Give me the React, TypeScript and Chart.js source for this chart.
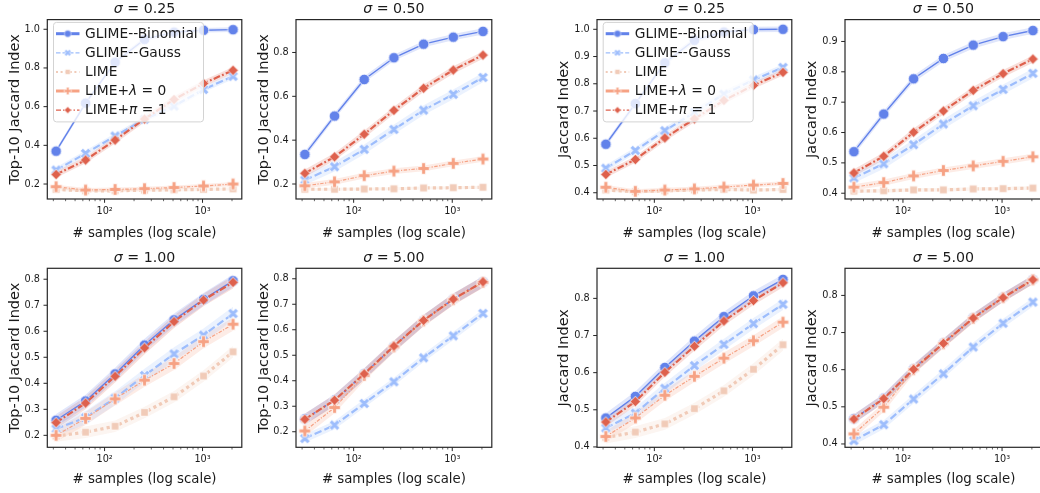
import React, { useEffect, useRef } from "react";
import { Chart, registerables } from "chart.js";

Chart.register(...registerables);

const FONT = '"DejaVu Sans", "Liberation Sans", sans-serif';

// ---------------- data ----------------
const samples = [32, 64, 128, 256, 512, 1024, 2048];
const xTickValues = [30, 40, 50, 60, 70, 80, 90, 100, 200, 300, 400, 500, 600, 700, 800, 900, 1000, 2000];
const xMajorTicks = [100, 1000];
const xMin = 26.02;
const xMax = 2518;

const seriesNames = ["GLIME--Binomial", "GLIME--Gauss", "LIME", "LIME+λ = 0", "LIME+π = 1"];
const seriesColors = ["#6282ea", "#9dbdfc", "#f1cbb8", "#f6a284", "#de614d"];

// LIME+π=1 does not depend on σ
const top10Pi1 = [0.249, 0.324, 0.427, 0.536, 0.637, 0.72, 0.788];
const jaccardPi1 = [0.467, 0.522, 0.601, 0.671, 0.739, 0.794, 0.842];

// σ = 0.25, Top-10 Jaccard
const t025Binomial = [0.37, 0.618, 0.83, 0.948, 0.985, 0.995, 0.998];
const t025Gauss = [0.272, 0.358, 0.448, 0.535, 0.603, 0.689, 0.757];
const t025Lime = [0.172, 0.165, 0.165, 0.168, 0.17, 0.172, 0.175];
const t025Lambda0 = [0.186, 0.169, 0.172, 0.176, 0.182, 0.19, 0.2];
// σ = 0.50, Top-10 Jaccard
const t050Binomial = [0.335, 0.51, 0.677, 0.776, 0.838, 0.87, 0.896];
const t050Gauss = [0.218, 0.279, 0.358, 0.449, 0.537, 0.609, 0.686];
const t050Lime = [0.176, 0.176, 0.177, 0.178, 0.182, 0.183, 0.185];
const t050Lambda0 = [0.192, 0.21, 0.238, 0.259, 0.271, 0.294, 0.314];
// σ = 0.25, Jaccard
const j025Binomial = [0.578, 0.727, 0.877, 0.96, 0.99, 0.999, 1.0];
const j025Gauss = [0.49, 0.555, 0.628, 0.695, 0.762, 0.814, 0.86];
const j025Lime = [0.41, 0.404, 0.407, 0.41, 0.412, 0.41, 0.412];
const j025Lambda0 = [0.42, 0.405, 0.41, 0.414, 0.421, 0.428, 0.434];
// σ = 0.50, Jaccard
const j050Binomial = [0.537, 0.661, 0.777, 0.844, 0.888, 0.916, 0.936];
const j050Gauss = [0.45, 0.497, 0.56, 0.628, 0.688, 0.742, 0.795];
const j050Lime = [0.407, 0.408, 0.411, 0.411, 0.414, 0.415, 0.417];
const j050Lambda0 = [0.42, 0.435, 0.457, 0.475, 0.49, 0.505, 0.52];
// σ = 1.00, Top-10 Jaccard
const t100Binomial = [0.258, 0.332, 0.436, 0.547, 0.644, 0.723, 0.794];
const t100Gauss = [0.225, 0.268, 0.343, 0.43, 0.513, 0.585, 0.668];
const t100Lime = [0.197, 0.212, 0.235, 0.288, 0.348, 0.428, 0.521];
const t100Lambda0 = [0.2, 0.265, 0.34, 0.412, 0.476, 0.56, 0.627];
// σ = 5.00, Top-10 Jaccard
const t500Binomial = [0.25, 0.324, 0.427, 0.535, 0.637, 0.72, 0.788];
const t500Gauss = [0.174, 0.226, 0.311, 0.396, 0.49, 0.576, 0.664];
const t500Lime = [0.248, 0.323, 0.425, 0.534, 0.636, 0.719, 0.787];
const t500Lambda0 = [0.203, 0.295, 0.421, 0.533, 0.635, 0.718, 0.786];
// σ = 1.00, Jaccard
const j100Binomial = [0.478, 0.536, 0.614, 0.685, 0.751, 0.807, 0.851];
const j100Gauss = [0.451, 0.491, 0.558, 0.619, 0.676, 0.732, 0.784];
const j100Lime = [0.425, 0.44, 0.462, 0.503, 0.551, 0.609, 0.675];
const j100Lambda0 = [0.428, 0.478, 0.539, 0.59, 0.639, 0.686, 0.736];
// σ = 5.00, Jaccard
const j500Binomial = [0.468, 0.523, 0.603, 0.672, 0.74, 0.795, 0.843];
const j500Gauss = [0.409, 0.452, 0.521, 0.589, 0.661, 0.725, 0.782];
const j500Lime = [0.467, 0.522, 0.602, 0.671, 0.739, 0.794, 0.842];
const j500Lambda0 = [0.427, 0.499, 0.6, 0.67, 0.738, 0.794, 0.842];

// confidence half-widths per series (Binomial, Gauss, LIME, λ=0, π=1)
const ciT025 = [0.012, 0.015, 0.008, 0.01, 0.017];
const ciT050 = [0.014, 0.022, 0.007, 0.013, 0.017];
const ciJ025 = [0.01, 0.012, 0.006, 0.008, 0.012];
const ciJ050 = [0.011, 0.016, 0.006, 0.01, 0.012];
const ciT100 = [0.024, 0.026, 0.022, 0.025, 0.024];
const ciT500 = [0.022, 0.016, 0.022, 0.022, 0.022];
const ciJ100 = [0.013, 0.015, 0.016, 0.015, 0.012];
const ciJ500 = [0.012, 0.012, 0.012, 0.012, 0.012];

// tick labels
const yTicksT025 = [0.2, 0.4, 0.6, 0.8, 1.0];
const yTicksT050 = [0.2, 0.4, 0.6, 0.8];
const yTicksJ025 = [0.4, 0.5, 0.6, 0.7, 0.8, 0.9, 1.0];
const yTicksJ050 = [0.4, 0.5, 0.6, 0.7, 0.8, 0.9];
const yTicksT100 = [0.2, 0.3, 0.4, 0.5, 0.6, 0.7, 0.8];
const yTicksT500 = [0.2, 0.3, 0.4, 0.5, 0.6, 0.7, 0.8];
const yTicksJ100 = [0.4, 0.5, 0.6, 0.7, 0.8];
const yTicksJ500 = [0.4, 0.5, 0.6, 0.7, 0.8];

const YLAB_TOP10 = "Top-10 Jaccard Index";
const YLAB_JAC = "Jaccard Index";
const XLAB = "# samples (log scale)";

const panelDefs = [
  { col: 0, row: 0, sigma: "0.25", ylabel: YLAB_TOP10, yMin: 0.1226, yMax: 1.05, yTicks: yTicksT025, series: [t025Binomial, t025Gauss, t025Lime, t025Lambda0, top10Pi1], ci: ciT025, legend: true },
  { col: 1, row: 0, sigma: "0.50", ylabel: YLAB_TOP10, yMin: 0.1316, yMax: 0.95, yTicks: yTicksT050, series: [t050Binomial, t050Gauss, t050Lime, t050Lambda0, top10Pi1], ci: ciT050, legend: false },
  { col: 2, row: 0, sigma: "0.25", ylabel: YLAB_JAC, yMin: 0.377, yMax: 1.0356, yTicks: yTicksJ025, series: [j025Binomial, j025Gauss, j025Lime, j025Lambda0, jaccardPi1], ci: ciJ025, legend: true },
  { col: 3, row: 0, sigma: "0.50", ylabel: YLAB_JAC, yMin: 0.381, yMax: 0.972, yTicks: yTicksJ050, series: [j050Binomial, j050Gauss, j050Lime, j050Lambda0, jaccardPi1], ci: ciJ050, legend: false },
  { col: 0, row: 1, sigma: "1.00", ylabel: YLAB_TOP10, yMin: 0.154, yMax: 0.842, yTicks: yTicksT100, series: [t100Binomial, t100Gauss, t100Lime, t100Lambda0, top10Pi1], ci: ciT100, legend: false },
  { col: 1, row: 1, sigma: "5.00", ylabel: YLAB_TOP10, yMin: 0.139, yMax: 0.841, yTicks: yTicksT500, series: [t500Binomial, t500Gauss, t500Lime, t500Lambda0, top10Pi1], ci: ciT500, legend: false },
  { col: 2, row: 1, sigma: "1.00", ylabel: YLAB_JAC, yMin: 0.399, yMax: 0.881, yTicks: yTicksJ100, series: [j100Binomial, j100Gauss, j100Lime, j100Lambda0, jaccardPi1], ci: ciJ100, legend: false },
  { col: 3, row: 1, sigma: "5.00", ylabel: YLAB_JAC, yMin: 0.391, yMax: 0.873, yTicks: yTicksJ500, series: [j500Binomial, j500Gauss, j500Lime, j500Lambda0, jaccardPi1], ci: ciJ500, legend: false },
];

// ---------------- layout & styles ----------------
const colLayout = [
  { left: 0, width: 250, plotLeft: 47.3, plotRight: 245.9, ylabelX: 15 },
  { left: 250, width: 250, plotLeft: 296, plotRight: 494.6, ylabelX: 264 },
  { left: 550, width: 250, plotLeft: 597, plotRight: 795.6, ylabelX: 564 },
  { left: 800, width: 250, plotLeft: 845, plotRight: 1043.6, ylabelX: 812 },
];
const rowLayout = [
  { top: 0, height: 247, plotTop: 19.6, plotBottom: 199, xlabelY: 233.5 },
  { top: 247, height: 246, plotTop: 268.3, plotBottom: 447.3, xlabelY: 480 },
];

const markerKinds = ["circle", "x", "square", "plus", "diamond"];
const lineStyles = [
  { width: 1.4, dash: [] as number[] },
  { width: 2.2, dash: [7.5, 3.2] },
  { width: 3.2, dash: [3.2, 3.2] },
  { width: 1.2, dash: [3.5, 1.5, 1.2, 1.5] },
  { width: 2.2, dash: [6.8, 2.3, 1.8, 2.3] },
];
const legendStyles = [
  { width: 3.0, dash: [] as number[] },
  { width: 1.3, dash: [4.5, 2] },
  { width: 2.0, dash: [2, 2.6] },
  { width: 3.0, dash: [] as number[] },
  { width: 1.3, dash: [5, 2, 1.5, 2] },
];

const TEXT = "#1a1a1a";
const SPINE = "#262626";

function hexA(hex: string, a: number) {
  const n = parseInt(hex.slice(1), 16);
  return `rgba(${(n >> 16) & 255},${(n >> 8) & 255},${n & 255},${a})`;
}

function makeMarker(kind: string, color: string, scale: number): HTMLCanvasElement {
  const size = Math.ceil(15 * scale) + 2;
  const c = document.createElement("canvas");
  c.width = size;
  c.height = size;
  const ctx = c.getContext("2d")!;
  ctx.translate(size / 2, size / 2);
  ctx.fillStyle = color;
  ctx.strokeStyle = "#ffffff";
  ctx.lineWidth = 0.8 * scale;
  ctx.lineJoin = "miter";
  const poly = (pts: number[][], k: number) => {
    ctx.beginPath();
    pts.forEach(([px, py], i) => (i ? ctx.lineTo(px * k, py * k) : ctx.moveTo(px * k, py * k)));
    ctx.closePath();
    ctx.fill();
    ctx.stroke();
  };
  if (kind === "circle") {
    ctx.beginPath();
    ctx.arc(0, 0, 5.3 * scale, 0, Math.PI * 2);
    ctx.fill();
    ctx.stroke();
  } else if (kind === "square") {
    const h = 3.8 * scale;
    poly([[-h, -h], [h, -h], [h, h], [-h, h]], 1);
  } else if (kind === "diamond") {
    const h = 5.3 * scale;
    poly([[0, -h], [h, 0], [0, h], [-h, 0]], 1);
  } else if (kind === "plus") {
    const k = (11.5 * scale) / 6;
    poly([[-1, -3], [-1, -1], [-3, -1], [-3, 1], [-1, 1], [-1, 3], [1, 3], [1, 1], [3, 1], [3, -1], [1, -1], [1, -3]], k);
  } else if (kind === "x") {
    const k = (10.5 * scale) / 4;
    poly([[-1, -2], [0, -1], [1, -2], [2, -1], [1, 0], [2, 1], [1, 2], [0, 1], [-1, 2], [-2, 1], [-1, 0], [-2, -1]], k);
  }
  return c;
}

function drawRich(ctx: CanvasRenderingContext2D, text: string, x: number, y: number, size: number, align: "left" | "center") {
  const runs: { t: string; it: boolean }[] = [];
  for (const ch of text) {
    const it = "λπσ".includes(ch);
    const last = runs[runs.length - 1];
    if (last && last.it === it) last.t += ch;
    else runs.push({ t: ch, it });
  }
  const fontOf = (it: boolean) => `${it ? "italic " : ""}${size}px ${FONT}`;
  let total = 0;
  const widths = runs.map((r) => {
    ctx.font = fontOf(r.it);
    const w = ctx.measureText(r.t).width;
    total += w;
    return w;
  });
  let cx = align === "center" ? x - total / 2 : x;
  ctx.textAlign = "left";
  runs.forEach((r, i) => {
    ctx.font = fontOf(r.it);
    ctx.fillText(r.t, cx, y);
    cx += widths[i];
  });
}

function createPanelChart(canvas: HTMLCanvasElement, p: any, markers: HTMLCanvasElement[], legendMarkers: HTMLCanvasElement[]) {
  const col = colLayout[p.col];
  const row = rowLayout[p.row];
  const yAxisW = col.plotLeft - col.left;
  const padRight = col.left + col.width - col.plotRight;
  const padTop = row.plotTop - row.top;
  const xAxisH = row.top + row.height - row.plotBottom;
  const yTitlePad = col.ylabelX - col.left - 8.7;
  const xTitlePad = row.top + row.height - row.xlabelY - 8;

  const datasets: any[] = [];
  p.series.forEach((vals: number[], s: number) => {
    const ci = p.ci[s];
    datasets.push({
      label: seriesNames[s] + " low",
      data: samples.map((x, k) => ({ x, y: vals[k] - ci })),
      borderWidth: 0,
      borderColor: "transparent",
      pointRadius: 0,
      fill: false,
      order: 20,
    });
    datasets.push({
      label: seriesNames[s] + " high",
      data: samples.map((x, k) => ({ x, y: vals[k] + ci })),
      borderWidth: 0,
      borderColor: "transparent",
      backgroundColor: hexA(seriesColors[s], 0.2),
      pointRadius: 0,
      fill: "-1",
      order: 20,
    });
  });
  p.series.forEach((vals: number[], s: number) => {
    datasets.push({
      label: seriesNames[s],
      data: samples.map((x, k) => ({ x, y: vals[k] })),
      borderColor: seriesColors[s],
      backgroundColor: seriesColors[s],
      borderWidth: lineStyles[s].width,
      borderDash: lineStyles[s].dash,
      pointStyle: markers[s],
      pointRadius: 5,
      fill: false,
      tension: 0,
      order: 5 - s,
    });
  });

  const decor = {
    id: "decor" + p.col + p.row,
    afterDraw(chart: any) {
      const ctx = chart.ctx as CanvasRenderingContext2D;
      const a = chart.chartArea;
      const xs = chart.scales.x;
      const ys = chart.scales.y;
      ctx.save();
      // ticks
      ctx.strokeStyle = SPINE;
      xTickValues.forEach((v) => {
        const px = xs.getPixelForValue(v);
        if (px < a.left - 0.5 || px > a.right + 0.5) return;
        const major = xMajorTicks.includes(v);
        ctx.lineWidth = major ? 1 : 0.7;
        ctx.beginPath();
        ctx.moveTo(px, a.bottom);
        ctx.lineTo(px, a.bottom + (major ? 3.8 : 2.2));
        ctx.stroke();
      });
      p.yTicks.forEach((v: number) => {
        const py = ys.getPixelForValue(v);
        ctx.lineWidth = 1;
        ctx.beginPath();
        ctx.moveTo(a.left, py);
        ctx.lineTo(a.left - 3.8, py);
        ctx.stroke();
      });
      // spines
      ctx.lineWidth = 1.2;
      ctx.strokeRect(a.left, a.top, a.right - a.left, a.bottom - a.top);
      // title
      ctx.fillStyle = TEXT;
      ctx.textBaseline = "alphabetic";
      drawRich(ctx, "σ = " + p.sigma, (a.left + a.right) / 2, a.top - 6.2, 14.2, "center");
      // legend
      if (p.legend) {
        const bx = a.left + 6.2;
        const by = a.top + 2.8;
        const bw = 150;
        const bh = 99.5;
        ctx.beginPath();
        ctx.roundRect(bx, by, bw, bh, 3);
        ctx.fillStyle = "rgba(255,255,255,0.8)";
        ctx.fill();
        ctx.strokeStyle = "#d3d3d3";
        ctx.lineWidth = 1;
        ctx.stroke();
        for (let s = 0; s < 5; s++) {
          const cy = by + 11.3 + s * 19.1;
          const x0 = bx + 2.5;
          const x1 = bx + 26;
          ctx.beginPath();
          ctx.setLineDash(legendStyles[s].dash);
          ctx.lineWidth = legendStyles[s].width;
          ctx.strokeStyle = seriesColors[s];
          ctx.moveTo(x0, cy);
          ctx.lineTo(x1, cy);
          ctx.stroke();
          ctx.setLineDash([]);
          const m = legendMarkers[s];
          ctx.drawImage(m, (x0 + x1) / 2 - m.width / 2, cy - m.height / 2);
          ctx.fillStyle = TEXT;
          ctx.textBaseline = "middle";
          drawRich(ctx, seriesNames[s], bx + 31.6, cy + 0.5, 13.8, "left");
        }
      }
      ctx.restore();
    },
  };

  return new Chart(canvas, {
    type: "line",
    data: { datasets },
    plugins: [decor],
    options: {
      animation: false,
      responsive: false,
      maintainAspectRatio: false,
      events: [],
      layout: { padding: { left: 0, right: padRight, top: padTop, bottom: 0 } },
      plugins: {
        legend: { display: false },
        tooltip: { enabled: false },
        title: { display: false },
      },
      scales: {
        x: {
          type: "logarithmic",
          position: "bottom",
          min: xMin,
          max: xMax,
          afterBuildTicks: (s: any) => {
            s.ticks = xTickValues.map((v) => ({ value: v, major: xMajorTicks.includes(v) }));
          },
          afterFit: (s: any) => {
            s.height = xAxisH;
            s.paddingLeft = 0;
            s.paddingRight = 0;
          },
          grid: { display: false, drawTicks: true, tickLength: 3.8 },
          border: { display: false },
          ticks: {
            autoSkip: false,
            maxRotation: 0,
            minRotation: 0,
            padding: 3,
            color: TEXT,
            font: { family: FONT, size: 9.7 },
            major: { enabled: false },
            callback: (v: any) => (Number(v) === 100 ? "10²" : Number(v) === 1000 ? "10³" : ""),
          },
          title: {
            display: true,
            text: XLAB,
            color: TEXT,
            font: { family: FONT, size: 13.3 },
            padding: { top: 0, bottom: xTitlePad },
          },
        },
        y: {
          type: "linear",
          position: "left",
          min: p.yMin,
          max: p.yMax,
          afterBuildTicks: (s: any) => {
            s.ticks = p.yTicks.map((v: number) => ({ value: v }));
          },
          afterFit: (s: any) => {
            s.width = yAxisW;
            s.paddingTop = 0;
            s.paddingBottom = 0;
          },
          grid: { display: false, drawTicks: true, tickLength: 3.8 },
          border: { display: false },
          ticks: {
            padding: 3.5,
            color: TEXT,
            font: { family: FONT, size: 9.7 },
            callback: (v: any) => Number(v).toFixed(1),
          },
          title: {
            display: true,
            text: p.ylabel,
            color: TEXT,
            font: { family: FONT, size: 14.5 },
            padding: { top: yTitlePad, bottom: 0 },
          },
        },
      },
    } as any,
  });
}

export default function App() {
  const refs = useRef<(HTMLCanvasElement | null)[]>([]);
  useEffect(() => {
    const markers = markerKinds.map((k, i) => makeMarker(k, seriesColors[i], 1));
    const legendMarkers = markerKinds.map((k, i) => makeMarker(k, seriesColors[i], 0.64));
    const charts = panelDefs.map((p, i) => createPanelChart(refs.current[i]!, p, markers, legendMarkers));
    return () => charts.forEach((c) => c.destroy());
  }, []);
  return (
    <div style={{ position: "absolute", left: 0, top: 0, width: 1040, height: 493, overflow: "hidden", background: "#ffffff" }}>
      {panelDefs.map((p, i) => {
        const c = colLayout[p.col];
        const r = rowLayout[p.row];
        return (
          <canvas
            key={i}
            ref={(el) => {
              refs.current[i] = el;
            }}
            width={c.width}
            height={r.height}
            style={{ position: "absolute", left: c.left, top: r.top, width: c.width, height: r.height }}
          />
        );
      })}
    </div>
  );
}
